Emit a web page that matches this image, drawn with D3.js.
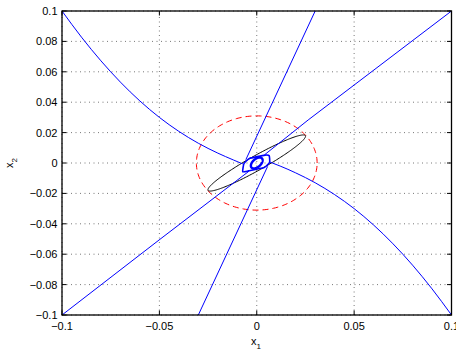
<!DOCTYPE html>
<html><head><meta charset="utf-8">
<script src="https://cdn.jsdelivr.net/npm/d3@7"></script>
<style>body{margin:0;background:#fff}svg{display:block}text{font-family:"Liberation Sans",Arial,sans-serif;}</style>
</head><body>
<svg id="c" width="456" height="351"></svg>
<script>
// ---- data ----
const xTicks = [-0.1, -0.05, 0, 0.05, 0.1];
const xTickLabels = ["\u22120.1", "\u22120.05", "0", "0.05", "0.1"];
const yTicks = [-0.1, -0.08, -0.06, -0.04, -0.02, 0, 0.02, 0.04, 0.06, 0.08, 0.1];
const yTickLabels = ["\u22120.1", "\u22120.08", "\u22120.06", "\u22120.04", "\u22120.02", "0", "0.02", "0.04", "0.06", "0.08", "0.1"];

// upper-left curved branch (blue)
const branchAx = [-0.1, -0.09, -0.08, -0.07, -0.06, -0.05, -0.04, -0.03, -0.02, -0.012, -0.0072];
const branchAy = [0.1, 0.0828, 0.0672, 0.0532, 0.0408, 0.030, 0.0208, 0.0130, 0.0065, 0.0020, -0.0006];
// lower-right curved branch (blue)
const branchBx = [0.0068, 0.012, 0.02, 0.03, 0.04, 0.05, 0.06, 0.07, 0.08, 0.09, 0.1];
const branchBy = [0.0006, -0.0020, -0.0065, -0.0130, -0.0208, -0.030, -0.0408, -0.0532, -0.0672, -0.0828, -0.1];
// steep blue lines
const steepUpX = [0.030, -0.0056];
const steepUpY = [0.1, 0.0022];
const steepLoX = [0.0056, -0.030];
const steepLoY = [-0.0022, -0.1];
// shallow blue lines
const shallowUpX = [0.1, 0.0264, 0.0040];
const shallowUpY = [0.1, 0.0283, 0.0054];
const shallowLoX = [-0.1, -0.0497, -0.0040];
const shallowLoY = [-0.1, -0.0502, -0.0054];
// outer blue closed contour near origin
const outerX = [-0.0072, -0.0066, -0.0038, 0.0042, 0.0064, 0.0066, 0.0038, -0.0042];
const outerY = [-0.0058, -0.0005, 0.0030, 0.0052, 0.0048, 0.0005, -0.0030, -0.0052];
// inner thick blue ellipse: semi-axes and angle (deg)
const innerEllipse = [0.0041, 0.0023, 55];
// black ellipse: semi-axes and angle (deg)
const blackEllipse = [0.0308, 0.0045, 36];
// red dashed circle radius
const circleRadius = [0.031];

// ---- drawing ----
const svg = d3.select("#c");
const L = 62, R = 451.5, T = 11, B = 315;
const x = d3.scaleLinear().domain([-0.1, 0.1]).range([L, R]);
const y = d3.scaleLinear().domain([-0.1, 0.1]).range([B, T]);

svg.append("defs").append("clipPath").attr("id", "clip")
  .append("rect").attr("x", L).attr("y", T).attr("width", R - L).attr("height", B - T);

// grid
const grid = svg.append("g").attr("stroke", "#555").attr("stroke-width", 0.8).attr("stroke-dasharray", "1,3.5");
xTicks.forEach(v => grid.append("line").attr("x1", x(v)).attr("x2", x(v)).attr("y1", B).attr("y2", T));
yTicks.forEach(v => grid.append("line").attr("y1", y(v)).attr("y2", y(v)).attr("x1", L).attr("x2", R));

const plot = svg.append("g").attr("clip-path", "url(#clip)");
const line = d3.line().x(d => x(d[0])).y(d => y(d[1]));
const zip = (a, b) => a.map((v, i) => [v, b[i]]);

function ellipsePts(a, b, deg) {
  const t = deg * Math.PI / 180, pts = [];
  for (let i = 0; i <= 200; i++) {
    const s = 2 * Math.PI * i / 200;
    const u = a * Math.cos(s), w = b * Math.sin(s);
    pts.push([u * Math.cos(t) - w * Math.sin(t), u * Math.sin(t) + w * Math.cos(t)]);
  }
  return pts;
}

// red dashed circle
plot.append("path").attr("d", line(ellipsePts(circleRadius[0], circleRadius[0], 0)))
  .attr("fill", "none").attr("stroke", "#ff0000").attr("stroke-width", 1).attr("stroke-dasharray", "6,4");
// black ellipse
plot.append("path").attr("d", line(ellipsePts(blackEllipse[0], blackEllipse[1], blackEllipse[2])))
  .attr("fill", "none").attr("stroke", "#000").attr("stroke-width", 1);

const curve = d3.line().x(d => x(d[0])).y(d => y(d[1])).curve(d3.curveMonotoneX);
[[branchAx, branchAy], [branchBx, branchBy]].forEach(([a, b]) =>
  plot.append("path").attr("d", curve(zip(a, b))).attr("fill", "none").attr("stroke", "#0000ff").attr("stroke-width", 1));
[[steepUpX, steepUpY], [steepLoX, steepLoY], [shallowUpX, shallowUpY], [shallowLoX, shallowLoY]].forEach(([a, b]) =>
  plot.append("path").attr("d", line(zip(a, b))).attr("fill", "none").attr("stroke", "#0000ff").attr("stroke-width", 1));
plot.append("path").attr("d", d3.line().x(d => x(d[0])).y(d => y(d[1])).curve(d3.curveCardinalClosed.tension(0.6))(zip(outerX, outerY)))
  .attr("fill", "none").attr("stroke", "#0000ff").attr("stroke-width", 1.6);
plot.append("path").attr("d", line(ellipsePts(innerEllipse[0], innerEllipse[1], innerEllipse[2])))
  .attr("fill", "none").attr("stroke", "#0000ff").attr("stroke-width", 2.4);

// axes box and ticks
const ax = svg.append("g").attr("stroke", "#000");
const tl = 4.5;
xTicks.forEach(v => {
  ax.append("line").attr("x1", x(v)).attr("x2", x(v)).attr("y1", B).attr("y2", B - tl);
  ax.append("line").attr("x1", x(v)).attr("x2", x(v)).attr("y1", T).attr("y2", T + tl);
});
yTicks.forEach(v => {
  ax.append("line").attr("y1", y(v)).attr("y2", y(v)).attr("x1", L).attr("x2", L + tl);
  ax.append("line").attr("y1", y(v)).attr("y2", y(v)).attr("x1", R).attr("x2", R - tl);
});
svg.append("rect").attr("x", L).attr("y", T).attr("width", R - L).attr("height", B - T)
  .attr("fill", "none").attr("stroke", "#000").attr("stroke-width", 1.3);

// tick labels
const fs = 11;
xTicks.forEach((v, i) => svg.append("text").attr("x", x(v)).attr("y", 329.5)
  .attr("text-anchor", "middle").attr("font-size", fs).attr("fill", "#000").text(xTickLabels[i]));
yTicks.forEach((v, i) => svg.append("text").attr("x", 57.5).attr("y", y(v) + 4)
  .attr("text-anchor", "end").attr("font-size", fs).attr("fill", "#000").text(yTickLabels[i]));

// axis labels
const xl = svg.append("text").attr("x", 256).attr("y", 345).attr("text-anchor", "middle").attr("font-size", fs).attr("fill", "#000");
xl.append("tspan").text("x");
xl.append("tspan").attr("font-size", 8).attr("dy", 4).text("1");
const yl = svg.append("text").attr("transform", "translate(13,163) rotate(-90)").attr("text-anchor", "middle").attr("font-size", fs).attr("fill", "#000");
yl.append("tspan").text("x");
yl.append("tspan").attr("font-size", 8).attr("dy", 4).text("2");
</script>
</body></html>
